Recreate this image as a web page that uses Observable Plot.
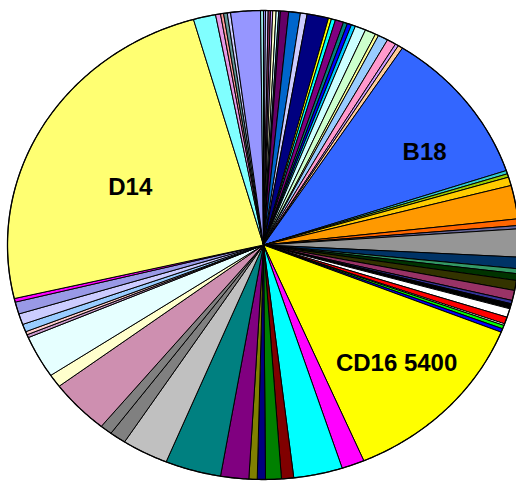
<!DOCTYPE html>
<html><head><meta charset="utf-8">
<script src="https://cdn.jsdelivr.net/npm/d3@7"></script>
<script src="https://cdn.jsdelivr.net/npm/@observablehq/plot@0.6"></script>
<style>html,body{margin:0;padding:0;background:#fff;overflow:hidden;}</style>
</head><body><div id="chart"></div>
<script>
// slice sizes (clockwise from 12 o'clock)
const values = [
  0.45, 0.6, 0.52, 0.51, 0.76, 0.59, 0.38, 1.86, 2.64, 1.51, 4.89,
  0.69, 0.93, 1.88, 0.94, 0.95, 0.95, 2.43, 2.46, 0.76, 2.28, 2.06, 0.76, 1.08,
  38.62,
  0.83, 0.86, 2.11, 8.29, 1.64, 0.81, 6.94, 2.85, 1.22, 1.66, 2.48, 2.5, 0.83, 1.27, 2.14, 1.71, 0.43, 0.86, 0.9,
  45.1,
  5.17, 11.1, 2.77, 3.58, 1.86, 1.88, 6.38, 12.69, 10.52, 3.71, 2.74,
  13.64, 3.25, 10.53, 0.75, 0.8, 1.9, 2.7, 3.0, 0.9,
  87.33,
  5.07, 1.13, 0.69, 0.83, 0.75, 6.73, 0.67
];
const colors = [
  "#9999ff", "#ccccff", "#993366", "#cc99ff", "#ffffcc", "#ccffff", "#333399", "#660066", "#0066cc", "#ccccff", "#000080",
  "#ffff00", "#00ffff", "#800080", "#008080", "#0000ff", "#00ccff", "#ccffff", "#ccffcc", "#ffff99", "#99ccff", "#ff99cc", "#cc99ff", "#ffcc99",
  "#3366ff",
  "#33cccc", "#99cc00", "#ffcc00", "#ff9900", "#ff6600", "#666699", "#969696", "#003366", "#339966", "#003300", "#333300", "#993366", "#333399", "#000000", "#ffffff", "#ff0000", "#ffffff", "#00ff00", "#0000ff",
  "#ffff00",
  "#ff00ff", "#00ffff", "#800000", "#008000", "#000080", "#808000", "#800080", "#008080", "#c0c0c0", "#808080", "#808080",
  "url(#pPink)", "#ffffcc", "url(#pLightCyan)", "#cc99cc", "#ffcccc", "url(#pLightBlue)", "#ccccff", "url(#pPurple2)", "#ff00ff",
  "url(#pD14)",
  "url(#pCyan)", "url(#pMauve)", "#ff9999", "#669999", "#ccccff", "url(#pPurple)", "url(#pTeal)"
];
const labelNames = ["B18", "CD16 5400", "D14"];
const labelIndex = [24, 44, 65];

// patterns: id, base colour, dot colour
const patterns = [
  ["pD14", "#ffffb0", "#ffff33"],
  ["pCyan", "#ccffff", "#33ffff"],
  ["pPurple", "#ccccff", "#5f5fff"],
  ["pPurple2", "#ccccff", "#6666cc"],
  ["pPink", "#ecc4d8", "#b05a88"],
  ["pLightCyan", "#ffffff", "#ccffff"],
  ["pLightBlue", "#ccffff", "#6699ff"],
  ["pMauve", "#ffccff", "#cc66cc"],
  ["pTeal", "#ffffff", "#33cccc"]
];

const total = d3.sum(values);
const pts = [];
const mids = [];
let cum = 0;
values.forEach((v, i) => {
  const a0 = cum / total * 2 * Math.PI;
  cum += v;
  const a1 = cum / total * 2 * Math.PI;
  mids.push((a0 + a1) / 2);
  const n = Math.max(2, Math.ceil((a1 - a0) / (0.25 * Math.PI / 180)));
  pts.push({id: i, fill: colors[i], x: 0, y: 0});
  for (let k = 0; k <= n; k++) {
    const a = a0 + (a1 - a0) * k / n;
    pts.push({id: i, fill: colors[i], x: Math.sin(a), y: Math.cos(a)});
  }
  pts.push({id: i, fill: colors[i], x: 0, y: 0});
});

const outline = d3.range(0, 361, 0.5).map(d => ({x: Math.sin(d * Math.PI / 180), y: Math.cos(d * Math.PI / 180)}));

// label placement: radial factor and angular nudge (degrees)
const place = {"B18": [0.742, 5.8], "CD16 5400": [0.725, -0.2], "D14": [0.575, -5.3]};
const labelData = labelNames.map((name, j) => {
  const [r, da] = place[name];
  const a = mids[labelIndex[j]] + da * Math.PI / 180;
  return {text: name, x: r * Math.sin(a), y: r * Math.cos(a)};
});

const plot = Plot.plot({
  width: 516,
  height: 481,
  margin: 0,
  style: {background: "#ffffff", overflow: "hidden"},
  x: {domain: [-1, 1], range: [7, 519], axis: null},
  y: {domain: [-1, 1], range: [479, 10], axis: null},
  color: {type: "identity"},
  marks: [
    Plot.line(pts, {x: "x", y: "y", z: "id", fill: "fill", stroke: "#000", strokeWidth: 1, curve: "linear", strokeLinejoin: "miter"}),
    Plot.line(outline, {x: "x", y: "y", stroke: "#000", strokeWidth: 1.3, fill: "none"}),
    Plot.text(labelData, {x: "x", y: "y", text: "text", fontSize: 24, fontWeight: "bold", fontFamily: "Liberation Sans, Arial, sans-serif", fill: "#000"})
  ]
});

const ns = "http://www.w3.org/2000/svg";
const defs = document.createElementNS(ns, "defs");
patterns.forEach(([id, base, dot]) => {
  const p = document.createElementNS(ns, "pattern");
  p.setAttribute("id", id);
  p.setAttribute("patternUnits", "userSpaceOnUse");
  p.setAttribute("width", 2);
  p.setAttribute("height", 2);
  const r0 = document.createElementNS(ns, "rect");
  r0.setAttribute("width", 2); r0.setAttribute("height", 2); r0.setAttribute("fill", base);
  p.appendChild(r0);
  [[0, 0], [1, 1]].forEach(([px, py]) => {
    const r = document.createElementNS(ns, "rect");
    r.setAttribute("x", px); r.setAttribute("y", py);
    r.setAttribute("width", 1); r.setAttribute("height", 1); r.setAttribute("fill", dot);
    p.appendChild(r);
  });
  defs.appendChild(p);
});
plot.insertBefore(defs, plot.firstChild);
document.getElementById("chart").appendChild(plot);
</script>
</body></html>
